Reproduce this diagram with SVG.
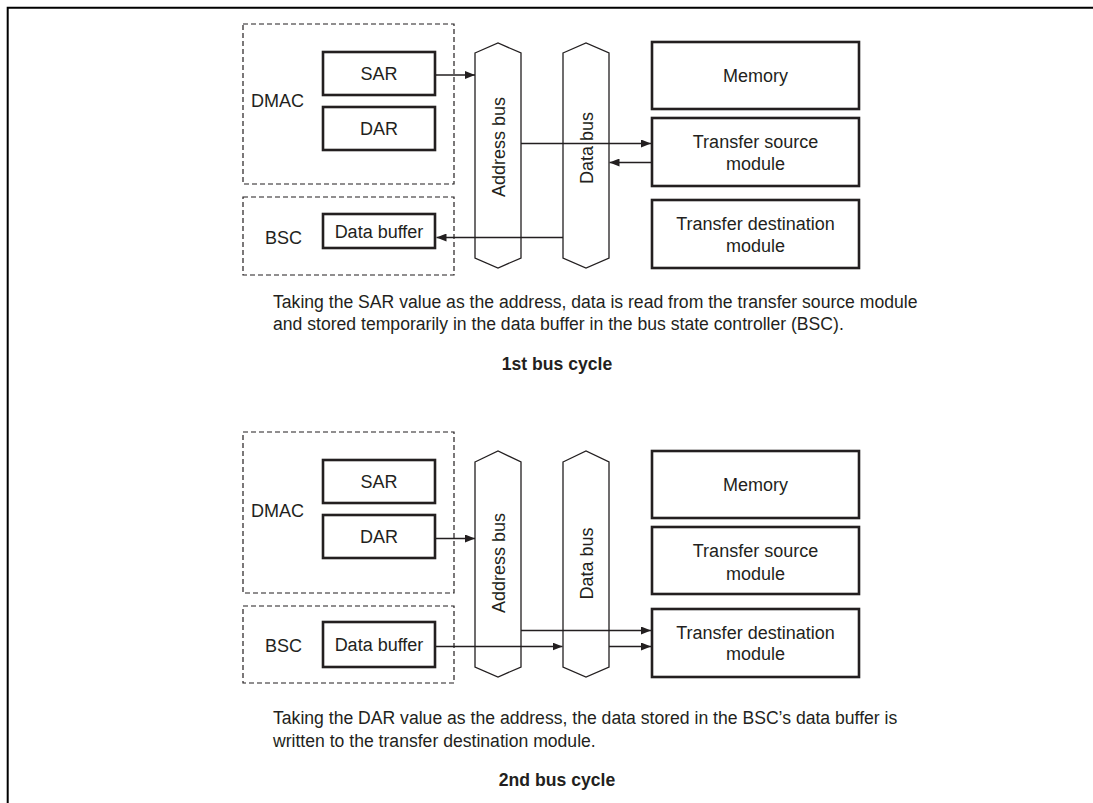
<svg xmlns="http://www.w3.org/2000/svg" width="1093" height="803" viewBox="0 0 1093 803">
<style>
text{font-family:"Liberation Sans",Arial,sans-serif;font-size:18px;fill:#231f20}
.c{text-anchor:middle}
.b{font-weight:bold}
.cap{font-size:17.6px}
.box{fill:#fff;stroke:#231f20;stroke-width:2.6}
.dash{fill:none;stroke:#231f20;stroke-width:1.2;stroke-dasharray:5 3}
.bus{fill:#fff;stroke:#231f20;stroke-width:1.3}
.ln{fill:none;stroke:#231f20;stroke-width:1.3}
</style>
<defs>
<marker id="ah" viewBox="0 0 10 8" refX="10" refY="4" markerWidth="10" markerHeight="8" markerUnits="userSpaceOnUse" orient="auto">
<path d="M0,0 L10,4 L0,8 Z" fill="#231f20"/>
</marker>
</defs>
<path d="M7.7,803 V7.7 H1093" fill="none" stroke="#000" stroke-width="2"/>

<!-- Cycle 1 -->
<g id="dmac1"><rect class="dash" x="243" y="24" width="211" height="160"/><text x="251" y="107">DMAC</text></g>
<g id="sar1"><rect class="box" x="323" y="52" width="112" height="43"/><text class="c" x="379" y="80">SAR</text></g>
<g id="dar1"><rect class="box" x="323" y="107" width="112" height="43"/><text class="c" x="379" y="135">DAR</text></g>
<g id="bsc1"><rect class="dash" x="243" y="197" width="211" height="78"/><text x="265" y="244">BSC</text></g>
<g id="buf1"><rect class="box" x="323" y="214" width="112" height="34"/><text class="c" x="379" y="237.5">Data buffer</text></g>
<g id="abus1"><path class="bus" d="M475,53 L498,43 L521,53 V258 L498,268 L475,258 Z"/><text class="c" transform="translate(504.5,147) rotate(-90)">Address bus</text></g>
<g id="dbus1"><path class="bus" d="M563,53 L586,43 L609,53 V258 L586,268 L563,258 Z"/><text class="c" transform="translate(592.5,148) rotate(-90)">Data bus</text></g>
<g id="mem1"><rect class="box" x="652" y="42" width="207" height="67"/><text class="c" x="755.5" y="82">Memory</text></g>
<g id="src1"><rect class="box" x="652" y="118" width="207" height="68"/><text class="c" x="755.5" y="148">Transfer source</text><text class="c" x="755.5" y="170">module</text></g>
<g id="dst1"><rect class="box" x="652" y="200" width="207" height="68"/><text class="c" x="755.5" y="230">Transfer destination</text><text class="c" x="755.5" y="252">module</text></g>
<g id="cap1"><text class="cap" x="273" y="308">Taking the SAR value as the address, data is read from the transfer source module</text><text class="cap" x="273" y="330">and stored temporarily in the data buffer in the bus state controller (BSC).</text><text class="c b cap" x="557" y="370">1st bus cycle</text></g>

<!-- Cycle 2 -->
<g id="dmac2"><rect class="dash" x="243" y="432" width="211" height="161"/><text x="251" y="516.5">DMAC</text></g>
<g id="sar2"><rect class="box" x="323" y="460" width="112" height="43"/><text class="c" x="379" y="488">SAR</text></g>
<g id="dar2"><rect class="box" x="323" y="515" width="112" height="43"/><text class="c" x="379" y="542.5">DAR</text></g>
<g id="bsc2"><rect class="dash" x="243" y="606" width="211" height="77"/><text x="265" y="651.5">BSC</text></g>
<g id="buf2"><rect class="box" x="323" y="622" width="112" height="45"/><text class="c" x="379" y="650.5">Data buffer</text></g>
<g id="abus2"><path class="bus" d="M475,462 L498,451 L521,462 V667 L498,677 L475,667 Z"/><text class="c" transform="translate(504.5,563) rotate(-90)">Address bus</text></g>
<g id="dbus2"><path class="bus" d="M563,462 L586,451 L609,462 V667 L586,677 L563,667 Z"/><text class="c" transform="translate(592.5,563.5) rotate(-90)">Data bus</text></g>
<g id="mem2"><rect class="box" x="652" y="451" width="207" height="67"/><text class="c" x="755.5" y="491">Memory</text></g>
<g id="src2"><rect class="box" x="652" y="527" width="207" height="67"/><text class="c" x="755.5" y="557">Transfer source</text><text class="c" x="755.5" y="580">module</text></g>
<g id="dst2"><rect class="box" x="652" y="609" width="207" height="68"/><text class="c" x="755.5" y="638.5">Transfer destination</text><text class="c" x="755.5" y="660">module</text></g>
<g id="cap2"><text class="cap" x="273" y="724">Taking the DAR value as the address, the data stored in the BSC’s data buffer is</text><text class="cap" x="273" y="747">written to the transfer destination module.</text><text class="c b cap" x="557" y="786">2nd bus cycle</text></g>

<g id="connectors">
<line class="ln" x1="436" y1="75" x2="475" y2="75" marker-end="url(#ah)"/>
<line class="ln" x1="521" y1="143.5" x2="651" y2="143.5" marker-end="url(#ah)"/>
<line class="ln" x1="651" y1="162.5" x2="609.5" y2="162.5" marker-end="url(#ah)"/>
<line class="ln" x1="563" y1="237.5" x2="436.5" y2="237.5" marker-end="url(#ah)"/>
<line class="ln" x1="436" y1="538.5" x2="475" y2="538.5" marker-end="url(#ah)"/>
<line class="ln" x1="521" y1="630.5" x2="651" y2="630.5" marker-end="url(#ah)"/>
<line class="ln" x1="436" y1="646.5" x2="562.5" y2="646.5" marker-end="url(#ah)"/>
<line class="ln" x1="609" y1="646.5" x2="651" y2="646.5" marker-end="url(#ah)"/>
</g>
</svg>
